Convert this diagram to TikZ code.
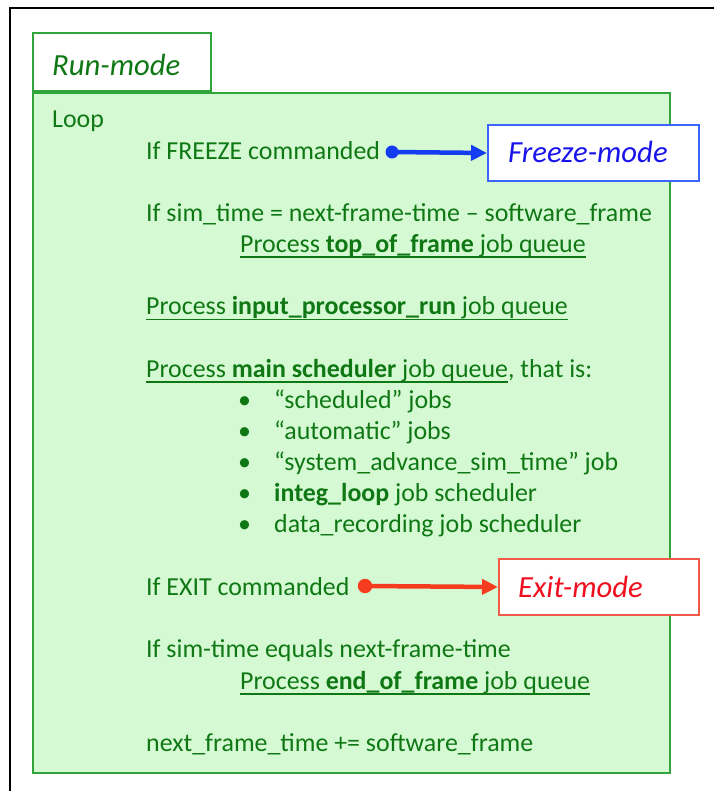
\documentclass[tikz,border=0pt]{standalone}
\usepackage{fontspec}
\setmainfont{Carlito}
\usetikzlibrary{arrows.meta}
\definecolor{tgreen}{RGB}{15,120,20}
\definecolor{bgreen}{RGB}{48,165,60}
\definecolor{lgreen}{RGB}{213,250,211}
\definecolor{bblue}{RGB}{60,100,255}
\definecolor{lblue}{RGB}{20,60,240}
\definecolor{tblue}{RGB}{25,20,235}
\definecolor{bred}{RGB}{240,90,70}
\definecolor{lred}{RGB}{245,60,30}
\definecolor{tred}{RGB}{240,15,30}
\newcommand{\myul}[1]{\setbox0\hbox{#1}\rlap{\rule[-5.5pt]{\wd0}{1.8pt}}\box0}
\begin{document}
\begin{tikzpicture}[x=1pt,y=-1pt,
  txt/.style={anchor=base west, inner sep=0, text=tgreen, font=\fontsize{25.9}{31}\selectfont},
  ttl/.style={anchor=base west, inner sep=0, font=\itshape\fontsize{30.7}{36}\selectfont},
  modebox/.style={fill=white, line width=2pt, minimum width=#1, minimum height=56pt, anchor=north west, inner sep=0},
  arr/.style={line width=4.5pt, -{Triangle[length=16pt,width=15pt]}}]
\useasboundingbox (0,0) rectangle (714,791);
\draw[line width=1.6pt] (10,791) -- (10,8) -- (714,8);
% main box and tab
\node[draw=bgreen, fill=lgreen, line width=2.2pt, minimum width=637pt, minimum height=680pt, anchor=north west, inner sep=0] (run) at (32,92) {};
\node[draw=bgreen, fill=white, line width=2.2pt, minimum width=178pt, minimum height=58pt, anchor=south west, inner sep=0] (tab) at (32,92) {};
\node[ttl, text=tgreen] (tabtxt) at (52,76) {Run-mode};
% text lines
\node[txt] (loop) at (52,128) {Loop};
\node[txt] (frzcmd) at (146,159.15) {If FREEZE commanded};
\node[txt] (simtime) at (146,221.45) {If sim\_time = next-frame-time – software\_frame};
\node[txt] (top) at (240,252.6) {\myul{Process \textbf{top\_of\_frame} job queue}};
\node[txt] (inp) at (146,314.9) {\myul{Process \textbf{input\_processor\_run} job queue}};
\node[txt] (mainq) at (146,377.2) {\myul{Process \textbf{main scheduler} job queue}, that is:};
\node[txt] (b1) at (238,408.35) {•};
\node[txt] (b2) at (238,439.5) {•};
\node[txt] (b3) at (238,470.65) {•};
\node[txt] (b4) at (238,501.8) {•};
\node[txt] (b5) at (238,532.95) {•};
\node[txt] (i1) at (274,408.35) {“scheduled” jobs};
\node[txt] (i2) at (274,439.5) {“automatic” jobs};
\node[txt] (i3) at (274,470.65) {“system\_advance\_sim\_time” job};
\node[txt] (i4) at (274,501.8) {\textbf{integ\_loop} job scheduler};
\node[txt] (i5) at (274,532.95) {data\_recording job scheduler};
\node[txt] (exitcmd) at (146,595.25) {If EXIT commanded};
\node[txt] (eq) at (146,657.55) {If sim-time equals next-frame-time};
\node[txt] (eof) at (240,689.5) {\myul{Process \textbf{end\_of\_frame} job queue}};
\node[txt] (nft) at (146,751) {next\_frame\_time += software\_frame};
% freeze
\node[modebox=211pt, draw=bblue] (freeze) at (487,124) {};
\node[ttl, text=tblue] (freezetxt) at (508,163) {Freeze-mode};
\coordinate (fzdot) at (392,152);
\fill[lblue] (fzdot) circle [radius=6.5pt];
\draw[arr, lblue] (fzdot) -- (freeze.west);
% exit
\node[modebox=200pt, draw=bred] (exit) at (498,558) {};
\node[ttl, text=tred] (exittxt) at (518,597) {Exit-mode};
\coordinate (exdot) at (365,586);
\fill[lred] (exdot) circle [radius=7.2pt];
\draw[arr, lred] (exdot) -- (exit.west);
\end{tikzpicture}
\end{document}
